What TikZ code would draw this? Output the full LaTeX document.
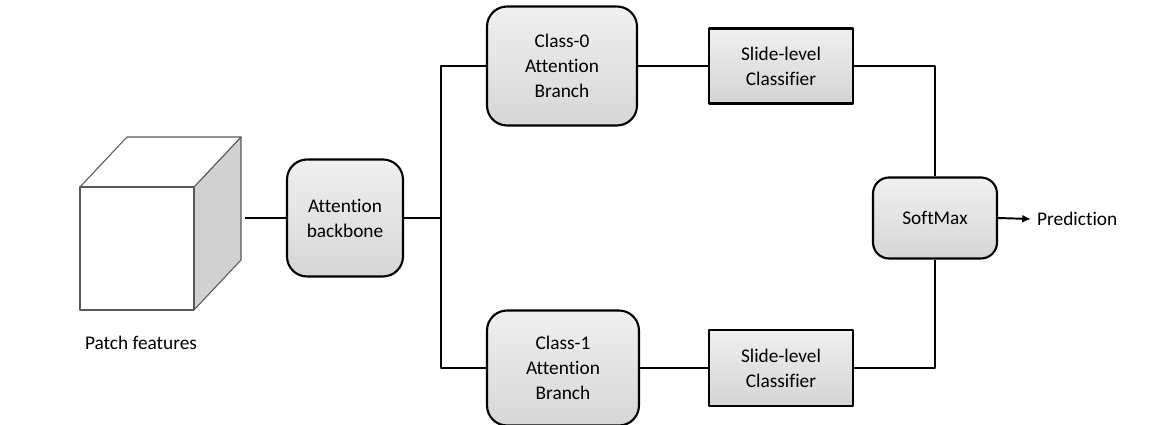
\documentclass[tikz,border=0pt]{standalone}
\usepackage{fontspec}
\setmainfont{Carlito}[Ligatures=NoCommon]
\usetikzlibrary{calc, positioning}
\usetikzlibrary{arrows.meta}

\tikzset{
  roundbox/.style={draw=black, line width=1.2pt, rounded corners=0.4cm, top color=black!6, bottom color=black!16, align=center, inner sep=2pt},
  clfbox/.style={draw=black, line width=1.2pt, top color=black!6, bottom color=black!17, align=center, inner sep=2pt},
  wire/.style={draw=black, line width=1.1pt},
  cubeline/.style={draw=black!65, line width=0.6pt, line join=round}
}

\begin{document}
\begin{tikzpicture}[x=0.02cm, y=-0.02cm, line join=round, font=\fontsize{11}{14.2}\selectfont]
\useasboundingbox (0,0) rectangle (1167,425);
\def\cubedx{47}
\def\cubedy{-50}

% Feature cube
\coordinate (FA) at (80,187);
\coordinate (FB) at (194,187);
\coordinate (FC) at (194,310);
\coordinate (FD) at (80,310);
\coordinate (BA) at ($(FA)+(\cubedx,\cubedy)$);
\coordinate (BB) at ($(FB)+(\cubedx,\cubedy)$);
\coordinate (BC) at ($(FC)+(\cubedx,\cubedy)$);
\filldraw[cubeline, fill=black!18] (FB) -- (BB) -- (BC) -- (FC) -- cycle;
\filldraw[cubeline, fill=white] (FA) -- (BA) -- (BB) -- (FB) -- cycle;
\filldraw[cubeline, fill=white] (FA) -- (FB) -- (FC) -- (FD) -- cycle;
\node (patch) at (141,343) {Patch features};

% Blocks
\node[roundbox, minimum width=2.32cm, minimum height=2.34cm] (backbone) at (345,218) {Attention\\backbone};
\node[roundbox, minimum width=3.0cm, minimum height=2.38cm] (cls0) at (562,66) {Class-0\\Attention\\Branch};
\node[roundbox, minimum width=3.04cm, minimum height=2.3cm] (cls1) at (563,368) {Class-1\\Attention\\Branch};
\node[clfbox, minimum width=2.88cm, minimum height=1.5cm] (clf0) at (781,66) {Slide-level\\Classifier};
\node[clfbox, minimum width=2.88cm, minimum height=1.52cm] (clf1) at (781,368) {Slide-level\\Classifier};
\node[roundbox, rounded corners=0.32cm, minimum width=2.48cm, minimum height=1.62cm] (softmax) at (935,218) {SoftMax};
\node[anchor=west] (pred) at (1031,219) {Prediction};

% Connectors
\coordinate (cubeout) at (245,218);
\coordinate (bus) at (441,0);
\draw[wire] (cubeout) -- (backbone.west);
\draw[wire] (backbone.east) -- (backbone.east -| bus);
\draw[wire] (cls0.west) -- (cls0.west -| bus) -- (cls1.west -| bus) -- (cls1.west);
\draw[wire] (cls0.east) -- (clf0.west);
\draw[wire] (cls1.east) -- (clf1.west);
\draw[wire] (clf0.east) -| (softmax.north);
\draw[wire] (clf1.east) -| (softmax.south);
\draw[wire, -{Latex[length=5pt, width=4.5pt]}] (softmax.east) -- (pred.west);
\end{tikzpicture}
\end{document}
